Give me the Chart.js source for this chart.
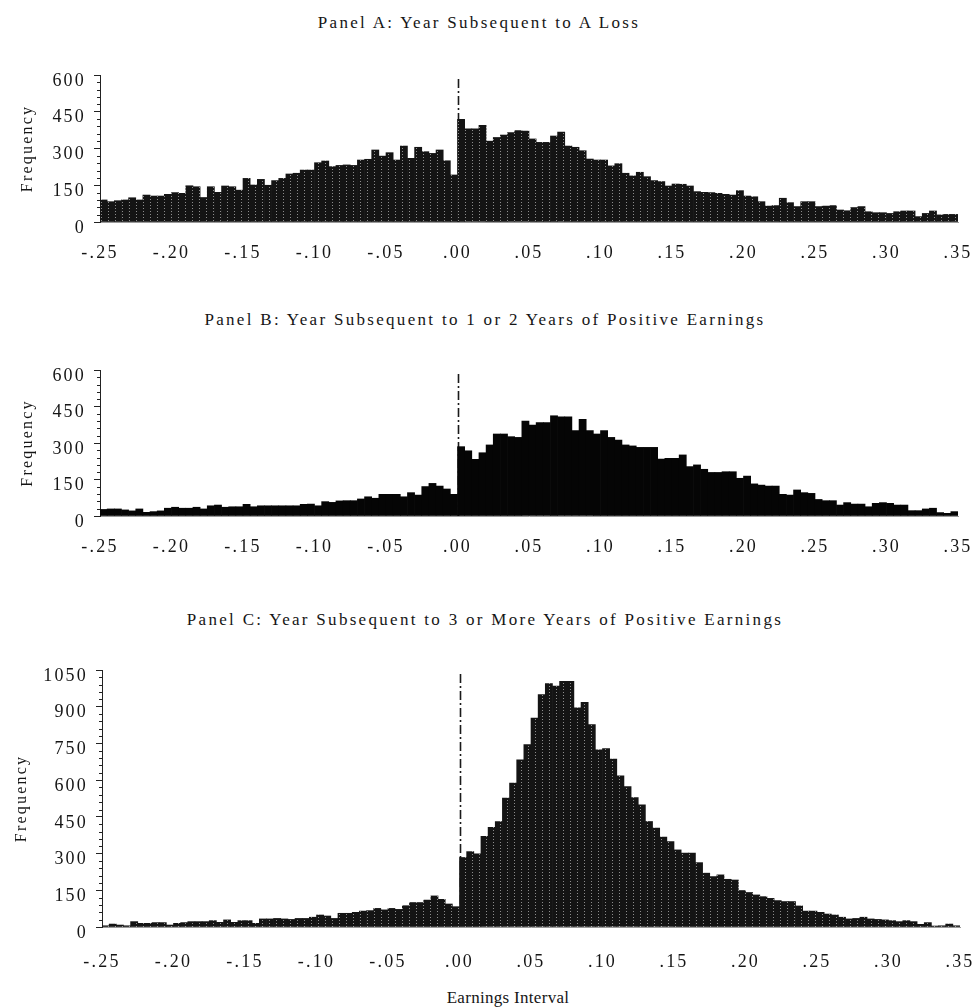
<!DOCTYPE html>
<html><head><meta charset="utf-8">
<script src="https://cdn.jsdelivr.net/npm/chart.js@4.4.1/dist/chart.umd.min.js"></script>
<style>
html,body{margin:0;padding:0;background:#fff;}
#wrap{position:relative;width:972px;height:1008px;overflow:hidden;background:#fff;}
.box{position:absolute;left:0;width:972px;}
canvas{display:block;}
.t{position:absolute;width:972px;text-align:center;font-family:'Liberation Serif','Times New Roman',serif;color:#151515;white-space:nowrap;line-height:20px;}
</style></head><body>
<div id="wrap">
<div class="t" style="top:13px;left:-7px;font-size:17px;letter-spacing:2.3px;">Panel A: Year Subsequent to A Loss</div>
<div class="t" style="top:310px;left:-1px;font-size:17px;letter-spacing:2.3px;">Panel B: Year Subsequent to 1 or 2 Years of Positive Earnings</div>
<div class="t" style="top:610px;left:-1px;font-size:17px;letter-spacing:2.3px;">Panel C: Year Subsequent to 3 or More Years of Positive Earnings</div>
<div class="t" style="top:988px;left:22px;font-size:17px;letter-spacing:0.3px;">Earnings Interval</div>
<div class="box" style="top:0;height:280px;"><canvas id="cA" width="972" height="280"></canvas></div>
<div class="box" style="top:280px;height:300px;"><canvas id="cB" width="972" height="300"></canvas></div>
<div class="box" style="top:580px;height:428px;"><canvas id="cC" width="972" height="428"></canvas></div>
</div>
<script>
// Earnings intervals: bins of width 0.005 from -0.25 to 0.35
const binStart = -0.25;
const binWidth = 0.005;
const binCount = 120;
const categories = Array.from({length: binCount}, (_, i) => (binStart + i * binWidth).toFixed(3));
const xTickMin = -0.25, xTickMax = 0.35, xTickStep = 0.05;

// Panel A: Year Subsequent to A Loss
const panelA = [
  90,83,87,90,99,90,110,106,106,113,
  120,117,148,144,100,144,121,147,144,130,
  178,151,174,150,169,178,196,199,212,212,
  242,249,226,231,233,231,253,256,294,269,
  283,253,310,260,305,287,280,294,250,192,
  419,380,380,395,330,345,355,365,373,371,
  339,325,325,351,367,310,305,291,257,253,
  253,229,238,199,188,203,185,169,165,147,
  155,154,147,124,121,120,117,113,110,128,
  106,103,83,65,67,97,79,63,83,83,
  63,65,67,49,46,59,63,42,38,38,
  35,42,45,45,22,35,45,29,31,31
];
// Panel B: Year Subsequent to 1 or 2 Years of Positive Earnings
const panelB = [
  27,29,29,25,21,29,15,18,21,32,
  36,32,32,36,29,42,45,36,38,38,
  48,38,42,42,42,42,42,42,48,49,
  42,59,56,62,63,63,70,79,73,89,
  89,89,79,96,86,121,134,123,111,89,
  285,268,233,260,292,337,337,326,323,390,
  374,384,384,412,408,408,351,397,351,337,
  351,323,312,292,288,282,282,282,234,237,
  237,251,203,210,192,179,179,182,182,155,
  164,132,127,123,123,89,86,107,96,93,
  68,63,63,45,55,49,49,38,52,55,
  52,45,45,22,22,29,32,14,11,18
];
// Panel C: Year Subsequent to 3 or More Years of Positive Earnings
const panelC = [
  5,12,8,5,22,15,15,18,18,8,
  15,18,22,22,22,26,19,29,19,26,
  26,15,33,33,35,33,31,35,35,40,
  49,45,35,56,56,60,65,67,76,70,
  76,72,87,100,100,110,127,113,94,83,
  284,308,299,370,407,431,527,588,683,745,
  854,950,995,984,1004,1004,895,918,827,724,
  729,686,618,574,529,499,431,404,367,349,
  315,302,302,263,220,206,213,195,192,149,
  141,131,124,117,108,104,104,86,65,65,
  60,53,49,40,33,35,40,33,31,29,
  26,22,26,22,11,18,4,5,12,5
];
const yTickStep = 150;
const yMinorStep = 30;

function dotPattern() {
  const p = document.createElement('canvas');
  p.width = 7; p.height = 3;
  const c = p.getContext('2d');
  c.fillStyle = '#141414'; c.fillRect(0, 0, 7, 3);
  c.fillStyle = '#8c8c8c'; c.fillRect(3, 1, 1, 1);
  return c.createPattern(p, 'repeat');
}

const SERIF = "'Liberation Serif','Times New Roman',serif";
const fmtX = v => {
  const s = (Math.round(v * 100) / 100).toFixed(2);
  return s.replace('0.', '.');
};
const fmtY = v => String(Math.round(v));

const decor = {
  id: 'decor',
  beforeDraw(chart) { chart.ctx.letterSpacing = '2.2px'; },
  beforeDatasetsDraw(chart) {
    const {ctx, chartArea: a, scales} = chart;
    const x0 = Math.round(scales.xt.getPixelForValue(0)) + 0.5;
    ctx.save();
    ctx.strokeStyle = '#1a1a1a'; ctx.lineWidth = 1.6;
    ctx.setLineDash([9, 3, 2, 3]);
    ctx.beginPath(); ctx.moveTo(x0, a.top + 4); ctx.lineTo(x0, a.bottom); ctx.stroke();
    ctx.restore();
  },
  afterDraw(chart) {
    const y = chart.scales.y; const {ctx, chartArea: a} = chart;
    ctx.save(); ctx.strokeStyle = '#222'; ctx.lineWidth = 1;
    for (let v = yMinorStep; v < y.max; v += yMinorStep) {
      if (v % yTickStep === 0) continue;
      const py = Math.round(y.getPixelForValue(v)) + 0.5;
      ctx.beginPath(); ctx.moveTo(a.left - 3, py); ctx.lineTo(a.left, py); ctx.stroke();
    }
    ctx.restore();
  }
};

function makeChart(id, values, o) {
  return new Chart(document.getElementById(id), {
    type: 'bar',
    data: {
      labels: categories,
      datasets: [{
        data: values, backgroundColor: o.fill, borderWidth: 0,
        barPercentage: 1, categoryPercentage: 1, xAxisID: 'x', yAxisID: 'y'
      }]
    },
    options: {
      responsive: false, animation: false,
      layout: {padding: {top: o.padTop, right: o.padRight, left: 0, bottom: 0}},
      plugins: {legend: {display: false}, tooltip: {enabled: false}, title: {display: false}},
      scales: {
        x: {type: 'category', display: false, offset: true},
        xt: {
          type: 'linear', position: 'bottom', min: xTickMin, max: xTickMax, offset: false,
          grid: {display: false, drawTicks: false},
          border: {display: true, color: '#9a9a9a', width: 1},
          ticks: {stepSize: xTickStep, autoSkip: false, maxRotation: 0, padding: o.xPad,
                  font: {family: SERIF, size: 18}, color: '#151515', callback: fmtX},
          afterFit: s => { s.height = o.xH; s.paddingLeft = 0; s.paddingRight = 0; }
        },
        y: {
          min: 0, max: o.max,
          ticks: {stepSize: yTickStep, padding: 8, labelOffset: 6, callback: fmtY,
                  font: {family: SERIF, size: 18}, color: '#151515'},
          grid: {drawOnChartArea: false, drawTicks: true, tickLength: 6, color: '#222'},
          border: {display: true, color: '#222', width: 1},
          title: {display: true, text: 'Frequency', color: '#151515',
                  font: {family: SERIF, size: 16}, padding: {top: o.ytPad, bottom: 0}},
          afterFit: s => { s.width = o.yW; s.paddingTop = 0; s.paddingBottom = 0; }
        }
      }
    },
    plugins: [decor]
  });
}

const pat = dotPattern();
makeChart('cA', panelA, {fill: pat, padTop: 75, padRight: 14, xH: 58, xPad: 20, max: 600, yW: 100, ytPad: 18});
makeChart('cB', panelB, {fill: '#050505', padTop: 90, padRight: 14, xH: 64, xPad: 20, max: 600, yW: 100, ytPad: 18});
makeChart('cC', panelC, {fill: pat, padTop: 90, padRight: 12, xH: 81, xPad: 24, max: 1050, yW: 102, ytPad: 12});
</script>
</body></html>
